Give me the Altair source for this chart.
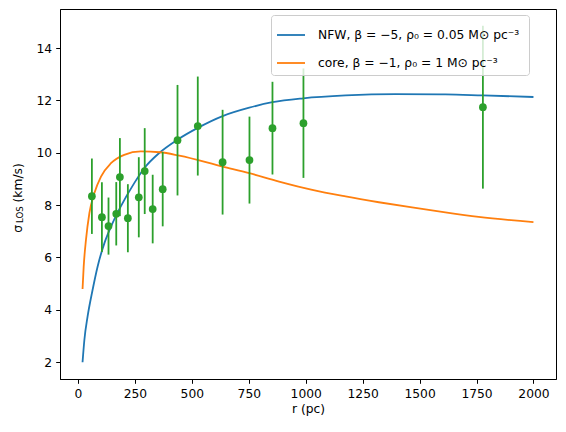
import altair as alt
import pandas as pd

# observed dispersion profile
r_obs = [61, 105, 134, 168, 184, 219, 267, 293, 328, 372, 437, 526, 635, 753, 854, 990, 1778]
sig_obs = [8.34, 7.54, 7.20, 7.67, 9.07, 7.50, 8.30, 9.30, 7.85, 8.61, 10.48, 11.02, 9.64, 9.72, 10.94, 11.13, 11.74]
err_obs = [1.44, 1.33, 1.09, 1.21, 1.49, 1.30, 1.53, 1.64, 1.31, 1.42, 2.11, 1.89, 2.00, 1.66, 1.77, 2.09, 3.11]

# model curves
r_nfw = [20, 28, 42, 64, 86, 116, 145, 188, 247, 291, 358, 437, 526, 635, 752, 854, 989, 1175, 1394, 1613, 1777, 2000]
sig_nfw = [2.0, 2.85, 3.74, 4.76, 5.65, 6.55, 7.18, 7.95, 8.84, 9.41, 10.0, 10.5, 10.95, 11.4, 11.72, 11.93, 12.08, 12.19, 12.24, 12.23, 12.19, 12.13]

r_core = [20, 25, 35, 50, 72, 101, 145, 203, 276, 360, 445, 635, 752, 883, 1029, 1175, 1321, 1467, 1613, 1759, 2000]
sig_core = [4.80, 5.65, 6.67, 7.69, 8.46, 9.09, 9.60, 9.92, 10.05, 10.02, 9.89, 9.47, 9.22, 8.90, 8.58, 8.33, 8.11, 7.91, 7.72, 7.55, 7.35]

lab_nfw = "NFW, β = −5,  ρ₀ = 0.05 M⊙ pc⁻³"
lab_core = "core, β = −1,  ρ₀ = 1 M⊙ pc⁻³"

x_ticks = [0, 250, 500, 750, 1000, 1250, 1500, 1750, 2000]
y_ticks = [2, 4, 6, 8, 10, 12, 14]

curves = pd.DataFrame({
    "r": r_nfw + r_core,
    "sigma": sig_nfw + sig_core,
    "model": [lab_nfw] * len(r_nfw) + [lab_core] * len(r_core),
    "order": list(range(len(r_nfw))) + list(range(len(r_core))),
})
obs = pd.DataFrame({"r": r_obs, "sigma": sig_obs, "err": err_obs})
obs["lo"] = obs["sigma"] - obs["err"]
obs["hi"] = obs["sigma"] + obs["err"]

FS = 12.3
xscale = alt.Scale(domain=[-79, 2099], nice=False, zero=False)
yscale = alt.Scale(domain=[1.36, 15.49], nice=False, zero=False)

xaxis = alt.Axis(values=x_ticks, format="d", title="r (pc)", grid=False, tickSize=4.3, labelPadding=4,
                 titlePadding=3, labelFontSize=FS, titleFontSize=FS, titleFontWeight="normal")
yaxis = alt.Axis(values=y_ticks, format="d", title=None, grid=False, tickSize=4.3, labelPadding=4,
                 labelFontSize=FS)

lines = alt.Chart(curves).mark_line(strokeWidth=1.8, interpolate="monotone").encode(
    x=alt.X("r:Q", scale=xscale, axis=xaxis),
    y=alt.Y("sigma:Q", scale=yscale, axis=yaxis),
    order="order:Q",
    color=alt.Color("model:N",
                    scale=alt.Scale(domain=[lab_nfw, lab_core], range=["#1f77b4", "#ff7f0e"]),
                    legend=alt.Legend(orient="none", legendX=211, legendY=6, title=None,
                                      symbolType="stroke", symbolSize=784, symbolStrokeWidth=1.8,
                                      labelFontSize=FS, labelOffset=12, rowPadding=6,
                                      padding=5, cornerRadius=3, strokeColor="#cccccc",
                                      fillColor="rgba(255,255,255,0.8)", labelLimit=500,
                                      zindex=1)),
)

bars = alt.Chart(obs).mark_rule(color="#2ca02c", strokeWidth=1.8).encode(
    x=alt.X("r:Q", scale=xscale),
    y=alt.Y("lo:Q", scale=yscale),
    y2="hi:Q",
)
pts = alt.Chart(obs).mark_circle(color="#2ca02c", size=60, opacity=1).encode(
    x=alt.X("r:Q", scale=xscale),
    y=alt.Y("sigma:Q", scale=yscale),
)

one = pd.DataFrame({"a": [0]})
t_sigma = alt.Chart(one).mark_text(text="σ", fontSize=FS, angle=270, align="left",
                                   baseline="middle", color="black").encode(
    x=alt.value(-42.5), y=alt.value(223.7))
t_los = alt.Chart(one).mark_text(text="LOS", fontSize=8.6, angle=270, align="left",
                                 baseline="middle", color="black").encode(
    x=alt.value(-40.5), y=alt.value(214.0))
t_unit = alt.Chart(one).mark_text(text="(km/s)", fontSize=FS, angle=270, align="left",
                                  baseline="middle", color="black").encode(
    x=alt.value(-42.5), y=alt.value(193.5))

chart = alt.layer(lines, bars, pts, t_sigma, t_los, t_unit).properties(
    width=496, height=370,
    autosize=alt.AutoSizeParams(type="none"),
    padding={"left": 52, "top": 1, "right": 2, "bottom": 40},
).configure(font="DejaVu Sans").configure_view(
    stroke="black", strokeWidth=1
).configure_axis(
    domainColor="black", domainWidth=1, tickColor="black", tickWidth=1,
    labelColor="black", titleColor="black", labelFont="DejaVu Sans", titleFont="DejaVu Sans"
).configure_legend(labelFont="DejaVu Sans", labelColor="black")

chart.save("out.html", embed_options={"renderer": "svg", "actions": False})
